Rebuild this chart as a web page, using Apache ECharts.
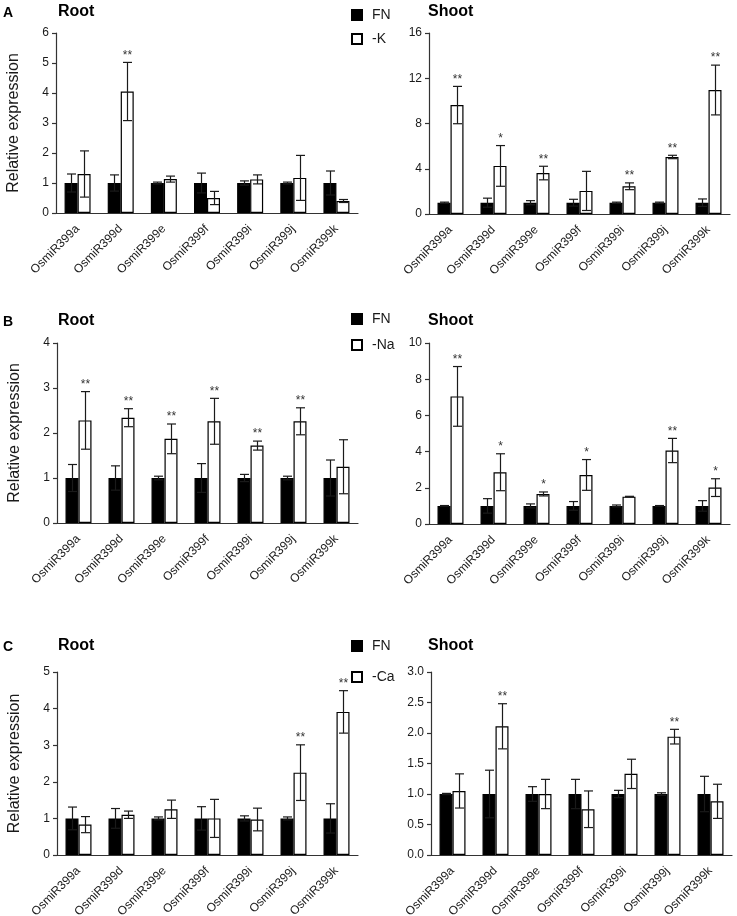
<!DOCTYPE html>
<html><head><meta charset="utf-8">
<script src="https://cdn.jsdelivr.net/npm/echarts/dist/echarts.min.js"></script>
<style>html,body{margin:0;padding:0;background:#fff}#c{width:737px;height:916px}</style>
</head><body><div id="c"></div>
<script>
const categories = ['OsmiR399a','OsmiR399d','OsmiR399e','OsmiR399f','OsmiR399i','OsmiR399j','OsmiR399k'];

// A: -K, root
const aRootFN    = [1, 1, 1, 1, 1, 1, 1];
const aRootFNErr = [0.30, 0.27, 0.03, 0.33, 0.07, 0.03, 0.40];
const aRootTr    = [1.30, 4.05, 1.13, 0.50, 1.12, 1.17, 0.40];
const aRootTrErr = [0.77, 0.97, 0.10, 0.22, 0.15, 0.75, 0.05];
const aRootSig   = ['', '**', '', '', '', '', ''];
// A: -K, shoot
const aShootFN    = [1, 1, 1, 1, 1, 1, 1];
const aShootFNErr = [0.05, 0.40, 0.18, 0.30, 0.05, 0.05, 0.33];
const aShootTr    = [9.63, 4.25, 3.62, 2.04, 2.45, 5.04, 10.96];
const aShootTrErr = [1.65, 1.80, 0.60, 1.73, 0.30, 0.15, 2.20];
const aShootSig   = ['**', '*', '**', '', '**', '**', '**'];
// B: -Na, root
const bRootFN    = [1, 1, 1, 1, 1, 1, 1];
const bRootFNErr = [0.30, 0.27, 0.04, 0.32, 0.08, 0.04, 0.40];
const bRootTr    = [2.28, 2.34, 1.87, 2.26, 1.72, 2.26, 1.25];
const bRootTrErr = [0.64, 0.20, 0.33, 0.51, 0.10, 0.30, 0.60];
const bRootSig   = ['**', '**', '**', '**', '**', '**', ''];
// B: -Na, shoot
const bShootFN    = [1, 1, 1, 1, 1, 1, 1];
const bShootFNErr = [0.02, 0.40, 0.11, 0.24, 0.05, 0.02, 0.29];
const bShootTr    = [7.05, 2.86, 1.66, 2.71, 1.51, 4.06, 2.01];
const bShootTrErr = [1.65, 1.02, 0.11, 0.85, 0.02, 0.67, 0.49];
const bShootSig   = ['**', '*', '*', '*', '', '**', '*'];
// C: -Ca, root
const cRootFN    = [1, 1, 1, 1, 1, 1, 1];
const cRootFNErr = [0.31, 0.27, 0.04, 0.32, 0.07, 0.04, 0.40];
const cRootTr    = [0.83, 1.10, 1.25, 1.00, 0.97, 2.25, 3.91];
const cRootTrErr = [0.22, 0.10, 0.25, 0.52, 0.31, 0.76, 0.58];
const cRootSig   = ['', '', '', '', '', '**', '**'];
// C: -Ca, shoot
const cShootFN    = [1, 1, 1, 1, 1, 1, 1];
const cShootFNErr = [0.01, 0.39, 0.12, 0.24, 0.06, 0.02, 0.29];
const cShootTr    = [1.05, 2.11, 1.00, 0.75, 1.33, 1.94, 0.88];
const cShootTrErr = [0.28, 0.37, 0.24, 0.30, 0.24, 0.12, 0.28];
const cShootSig   = ['', '**', '', '', '', '**', ''];

const yTicksA = {root: [0, 6, 1], shoot: [0, 16, 4]};
const yTicksB = {root: [0, 4, 1], shoot: [0, 10, 2]};
const yTicksC = {root: [0, 5, 1], shoot: [0, 3, 0.5]};

const F = 'Liberation Sans, Arial, sans-serif';
const INK = '#1a1a1a';

const panels = [
  {grid:{left:56, top:33, width:302, height:180}, ticks:yTicksA.root, dec:0, fn:aRootFN, fnErr:aRootFNErr, tr:aRootTr, trErr:aRootTrErr, sig:aRootSig, trName:'-K', yName:true},
  {grid:{left:429, top:33, width:301, height:181}, ticks:yTicksA.shoot, dec:0, fn:aShootFN, fnErr:aShootFNErr, tr:aShootTr, trErr:aShootTrErr, sig:aShootSig, trName:'-K', yName:false},
  {grid:{left:57, top:343, width:301, height:180}, ticks:yTicksB.root, dec:0, fn:bRootFN, fnErr:bRootFNErr, tr:bRootTr, trErr:bRootTrErr, sig:bRootSig, trName:'-Na', yName:true},
  {grid:{left:429, top:343, width:301, height:181}, ticks:yTicksB.shoot, dec:0, fn:bShootFN, fnErr:bShootFNErr, tr:bShootTr, trErr:bShootTrErr, sig:bShootSig, trName:'-Na', yName:false},
  {grid:{left:57, top:672, width:301, height:183}, ticks:yTicksC.root, dec:0, fn:cRootFN, fnErr:cRootFNErr, tr:cRootTr, trErr:cRootTrErr, sig:cRootSig, trName:'-Ca', yName:true},
  {grid:{left:431, top:672, width:301, height:183}, ticks:yTicksC.shoot, dec:1, fn:cShootFN, fnErr:cShootFNErr, tr:cShootTr, trErr:cShootTrErr, sig:cShootSig, trName:'-Ca', yName:false}
];

const BW = 13;

function errSeries(i, vals, errs, sig, off) {
  return {
    type: 'custom', xAxisIndex: i, yAxisIndex: i, z: 10, silent: true,
    data: vals.map((v, k) => [k, v, errs[k]]),
    encode: {x: 0, y: 1},
    renderItem: (params, api) => {
      const k = api.value(0), v = api.value(1), e = api.value(2);
      const x = Math.round(api.coord([k, v])[0] + off) + 0.5;
      const yT = api.coord([k, v + e])[1], yB = api.coord([k, Math.max(0, v - e)])[1];
      const cap = 4.5;
      const st = {stroke: INK, lineWidth: 1.2};
      const ch = [
        {type: 'line', shape: {x1: x, y1: yT, x2: x, y2: yB}, style: st},
        {type: 'line', shape: {x1: x - cap, y1: yT, x2: x + cap, y2: yT}, style: st},
        {type: 'line', shape: {x1: x - cap, y1: yB, x2: x + cap, y2: yB}, style: st}
      ];
      const s = sig ? sig[k] : '';
      if (s) ch.push({type: 'text', style: {text: s, x: x, y: yT - 1, align: 'center', verticalAlign: 'bottom', fontSize: 12, fill: '#333', fontFamily: F}});
      return {type: 'group', children: ch};
    }
  };
}

const grid = [], xAxis = [], yAxis = [], series = [];
panels.forEach((p, i) => {
  grid.push(Object.assign({containLabel: false, outerBoundsMode: 'none'}, p.grid));
  xAxis.push({
    type: 'category', gridIndex: i, data: categories,
    axisLine: {lineStyle: {color: '#333', width: 1.2}},
    axisTick: {length: 4, lineStyle: {color: '#333', width: 1.2}},
    axisLabel: {rotate: 45, interval: 0, fontSize: 12, color: INK, fontFamily: F, margin: 14}
  });
  yAxis.push({
    type: 'value', gridIndex: i, min: p.ticks[0], max: p.ticks[1], interval: p.ticks[2],
    splitLine: {show: false},
    axisLine: {show: true, lineStyle: {color: '#333', width: 1.2}},
    axisTick: {show: true, length: 4, lineStyle: {color: '#333', width: 1.2}},
    axisLabel: {fontSize: 12, color: INK, fontFamily: F, margin: 7, formatter: v => v.toFixed(p.dec)},
    name: p.yName ? 'Relative expression' : '', nameLocation: 'middle', nameGap: 34,
    nameTextStyle: {fontSize: 16, color: INK, fontFamily: F}
  });
  series.push({type: 'bar', name: 'FN', xAxisIndex: i, yAxisIndex: i, data: p.fn, barWidth: BW, barGap: '0%',
    itemStyle: {color: '#000', borderColor: '#000', borderWidth: 1.2}, silent: true});
  series.push({type: 'bar', name: p.trName, xAxisIndex: i, yAxisIndex: i, data: p.tr, barWidth: BW, barGap: '0%',
    itemStyle: {color: '#fff', borderColor: '#000', borderWidth: 1.2}, silent: true});
  series.push(errSeries(i, p.fn, p.fnErr, null, -BW / 2));
  series.push(errSeries(i, p.tr, p.trErr, p.sig, BW / 2));
});

const legTxt = {fontSize: 14, color: INK, fontFamily: F, padding: [0, 0, 0, 5]};
const legend = [
  {left: 351, top: 8, orient: 'vertical', padding: 0, itemWidth: 10, itemHeight: 10, itemGap: 10, icon: 'rect', data: ['FN', '-K'], textStyle: legTxt, selectedMode: false},
  {left: 351, top: 312, orient: 'vertical', padding: 0, itemWidth: 10, itemHeight: 10, itemGap: 12, icon: 'rect', data: ['FN', '-Na'], textStyle: legTxt, selectedMode: false},
  {left: 351, top: 639, orient: 'vertical', padding: 0, itemWidth: 10, itemHeight: 10, itemGap: 17, icon: 'rect', data: ['FN', '-Ca'], textStyle: legTxt, selectedMode: false}
];

const tb = {fontSize: 16, fontWeight: 'bold', color: '#000', fontFamily: F};
const tl = {fontSize: 14, fontWeight: 'bold', color: '#000', fontFamily: F};
const title = [
  {text: 'A', left: 3, top: 6, padding: 0, textStyle: tl},
  {text: 'Root', left: 58, top: 4, padding: 0, textStyle: tb},
  {text: 'Shoot', left: 428, top: 4, padding: 0, textStyle: tb},
  {text: 'B', left: 3, top: 315, padding: 0, textStyle: tl},
  {text: 'Root', left: 58, top: 313, padding: 0, textStyle: tb},
  {text: 'Shoot', left: 428, top: 313, padding: 0, textStyle: tb},
  {text: 'C', left: 3, top: 640, padding: 0, textStyle: tl},
  {text: 'Root', left: 58, top: 638, padding: 0, textStyle: tb},
  {text: 'Shoot', left: 428, top: 638, padding: 0, textStyle: tb}
];

const chart = echarts.init(document.getElementById('c'), null, {renderer: 'canvas'});
chart.setOption({backgroundColor: '#fff', animation: false, title, legend, grid, xAxis, yAxis, series});
</script>
</body></html>
